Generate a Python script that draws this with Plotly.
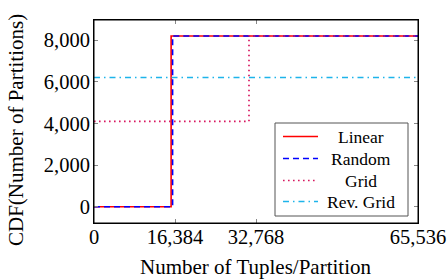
import plotly.graph_objects as go

# Data (step CDFs)
linear_x = [0, 15600, 15600, 65536]
linear_y = [0, 0, 8192, 8192]
random_x = [0, 15900, 15900, 65536]
random_y = [0, 0, 8192, 8192]
grid_x = [0, 31350, 31350, 65536]
grid_y = [4096, 4096, 8192, 8192]
revgrid_x = [0, 65536]
revgrid_y = [6200, 6200]

series_names = ["Linear", "Random", "Grid", "Rev. Grid"]

x_ticks = [0, 16384, 32768, 65536]
x_ticklabels = ["0", "16,384", "32,768", "65,536"]
y_ticks = [0, 2000, 4000, 6000, 8000]
y_ticklabels = ["0", "2,000", "4,000", "6,000", "8,000"]

FONT = "Liberation Serif, Times New Roman, serif"
W, H = 447, 280
ML, MR, MT, MB = 94, 29, 20, 57
PW, PH = W - ML - MR, H - MT - MB


def px(x):
    return (x - ML) / PW


def py(y):
    return (H - MB - y) / PH


styles = [
    dict(color="#FF0000", width=1.6),
    dict(color="#0000FF", width=1.6, dash="6px,4px"),
    dict(color="#D81860", width=1.7, dash="1.6px,3.4px"),
    dict(color="#1EB4EA", width=1.5, dash="6px,4px,1.5px,4px"),
]
xs = [linear_x, random_x, grid_x, revgrid_x]
ys = [linear_y, random_y, grid_y, revgrid_y]

fig = go.Figure()
for name, x, y, st in zip(series_names, xs, ys, styles):
    fig.add_trace(go.Scatter(x=x, y=y, mode="lines", name=name, line=st, showlegend=False))

# manual legend (pgfplots-like: centered text)
shapes = [dict(type="rect", xref="paper", yref="paper", x0=px(275), y0=py(216), x1=px(408), y1=py(123),
               line=dict(color="#555555", width=1), fillcolor="white", layer="above")]
annotations = []
row_y = [136.5, 158.5, 180.5, 201.5]
for name, st, ry in zip(series_names, styles, row_y):
    shapes.append(dict(type="line", xref="paper", yref="paper", x0=px(283), x1=px(318),
                       y0=py(ry), y1=py(ry), line=st, layer="above"))
    annotations.append(dict(text=name, xref="paper", yref="paper", x=px(360.5), y=py(ry),
                            xanchor="center", yanchor="middle", showarrow=False,
                            font=dict(family=FONT, size=17.5)))

shapes.append(dict(type="rect", xref="paper", yref="paper", x0=0, y0=0, x1=1, y1=1,
                   line=dict(color="black", width=1), fillcolor="rgba(0,0,0,0)", layer="above"))

annotations += [
    dict(text="Number of Tuples/Partition", xref="paper", yref="paper",
         x=0.5, y=py(267), xanchor="center", yanchor="middle", showarrow=False,
         font=dict(family=FONT, size=21)),
    dict(text="CDF(Number of Partitions)", xref="paper", yref="paper",
         x=px(16), y=py(130), xanchor="center", yanchor="middle", showarrow=False,
         textangle=-90, font=dict(family=FONT, size=21)),
]

fig.update_layout(
    template="none",
    width=W, height=H,
    margin=dict(l=ML, r=MR, t=MT, b=MB, autoexpand=False),
    plot_bgcolor="white", paper_bgcolor="white",
    font=dict(family=FONT, size=20, color="black"),
    showlegend=False,
    shapes=shapes,
    annotations=annotations,
)
fig.update_xaxes(range=[0, 65536], tickvals=x_ticks, ticktext=x_ticklabels,
                 ticks="inside", ticklen=4, tickcolor="#888888", mirror="ticks",
                 showline=True, linecolor="black", linewidth=1, showgrid=False,
                 zeroline=False, automargin=False, tickfont=dict(family=FONT, size=20.5),
                 ticklabelstandoff=-5)
fig.update_yaxes(range=[-780, 8960], tickvals=y_ticks, ticktext=y_ticklabels,
                 ticks="inside", ticklen=4, tickcolor="#888888", mirror="ticks",
                 showline=True, linecolor="black", linewidth=1, showgrid=False,
                 zeroline=False, automargin=False, tickfont=dict(family=FONT, size=20.5),
                 ticklabelstandoff=-1)

fig.write_html("out.html", config={"displayModeBar": False},
               post_script="document.body.style.margin='0';document.body.style.overflow='hidden';")
